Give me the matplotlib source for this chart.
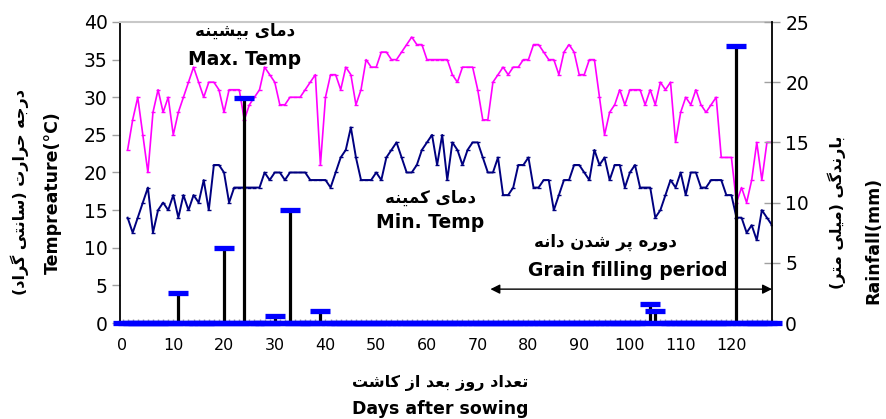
import matplotlib
matplotlib.use("Agg")
import matplotlib.pyplot as plt
import numpy as np

# ---------------- data ----------------
max_temp = [23, 27, 30, 25, 20, 28, 31, 28, 30, 25,
            28, 30, 32, 34, 32, 30, 32, 32, 31, 28,
            31, 31, 31, 27, 29, 30, 31, 34, 33, 32,
            29, 29, 30, 30, 30, 31, 32, 33, 21, 30,
            33, 33, 31, 34, 33, 29, 31, 35, 34, 34,
            36, 36, 35, 35, 36, 37, 38, 37, 37, 35,
            35, 35, 35, 35, 33, 32, 34, 34, 34, 31,
            27, 27, 32, 33, 34, 33, 34, 34, 35, 35,
            37, 37, 36, 35, 35, 33, 36, 37, 36, 33,
            33, 35, 35, 30, 25, 28, 29, 31, 29, 31,
            31, 31, 29, 31, 29, 32, 31, 32, 24, 28,
            30, 29, 31, 29, 28, 29, 30, 22, 22, 22,
            16, 18, 16, 19, 24, 19, 24, 24]
min_temp = [14, 12, 14, 16, 18, 12, 15, 16, 15, 17,
            14, 17, 15, 17, 16, 19, 15, 21, 21, 20,
            16, 18, 18, 18, 18, 18, 18, 20, 19, 20,
            20, 19, 20, 20, 20, 20, 19, 19, 19, 19,
            18, 20, 22, 23, 26, 22, 19, 19, 19, 20,
            19, 22, 23, 24, 22, 20, 20, 21, 23, 24,
            25, 21, 25, 19, 24, 23, 21, 23, 24, 24,
            22, 20, 20, 22, 17, 17, 18, 21, 21, 22,
            18, 18, 19, 19, 15, 17, 19, 19, 21, 21,
            20, 19, 23, 21, 22, 19, 21, 21, 18, 20,
            21, 18, 18, 18, 14, 15, 17, 19, 18, 20,
            17, 20, 20, 18, 18, 19, 19, 19, 17, 17,
            14, 14, 12, 13, 11, 15, 14, 13]
rain_days = [11, 20, 24, 30, 33, 39, 104, 105, 121]
rain_mm = [2.5, 6.2, 18.7, 0.6, 9.4, 1.0, 1.6, 1.0, 23.0]
n_days = 128
x_ticks = list(range(0, 121, 10))
temp_ticks = list(range(0, 41, 5))
rain_ticks = list(range(0, 26, 5))
grain_start, grain_end = 72.5, 128

# ---------------- Persian shaping ----------------
FORMS = {
    '\u0627': ('\uFE8D', '\uFE8E', None, None),
    '\u062F': ('\uFEA9', '\uFEAA', None, None),
    '\u0630': ('\uFEAB', '\uFEAC', None, None),
    '\u0631': ('\uFEAD', '\uFEAE', None, None),
    '\u0632': ('\uFEAF', '\uFEB0', None, None),
    '\u0648': ('\uFEED', '\uFEEE', None, None),
    '\u0628': ('\uFE8F', '\uFE90', '\uFE91', '\uFE92'),
    '\u067E': ('\uFB56', '\uFB57', '\uFB58', '\uFB59'),
    '\u062A': ('\uFE95', '\uFE96', '\uFE97', '\uFE98'),
    '\u062C': ('\uFE9D', '\uFE9E', '\uFE9F', '\uFEA0'),
    '\u062D': ('\uFEA1', '\uFEA2', '\uFEA3', '\uFEA4'),
    '\u0633': ('\uFEB1', '\uFEB2', '\uFEB3', '\uFEB4'),
    '\u0634': ('\uFEB5', '\uFEB6', '\uFEB7', '\uFEB8'),
    '\u0639': ('\uFEC9', '\uFECA', '\uFECB', '\uFECC'),
    '\u06A9': ('\uFB8E', '\uFB8F', '\uFB90', '\uFB91'),
    '\u06AF': ('\uFB92', '\uFB93', '\uFB94', '\uFB95'),
    '\u0644': ('\uFEDD', '\uFEDE', '\uFEDF', '\uFEE0'),
    '\u0645': ('\uFEE1', '\uFEE2', '\uFEE3', '\uFEE4'),
    '\u0646': ('\uFEE5', '\uFEE6', '\uFEE7', '\uFEE8'),
    '\u0647': ('\uFEE9', '\uFEEA', '\uFEEB', '\uFEEC'),
    '\u06CC': ('\uFBFC', '\uFBFD', '\uFBFE', '\uFBFF'),
}
RIGHT_ONLY = set('\u0627\u062F\u0630\u0631\u0632\u0648')


def fa(text):
    out = []
    for i, c in enumerate(text):
        if c not in FORMS:
            out.append(c)
            continue
        prev = text[i - 1] if i > 0 else None
        nxt = text[i + 1] if i + 1 < len(text) else None
        jp = prev in FORMS and prev not in RIGHT_ONLY
        jn = nxt in FORMS and c not in RIGHT_ONLY
        f = FORMS[c]
        if jp and jn:
            g = f[3]
        elif jp:
            g = f[1]
        elif jn:
            g = f[2]
        else:
            g = f[0]
        out.append(g)
    out = out[::-1]
    swap = {'(': ')', ')': '('}
    return ''.join(swap.get(ch, ch) for ch in out)


FONT = ['DejaVu Sans']
plt.rcParams['font.family'] = FONT

# ---------------- figure ----------------
fig = plt.figure(figsize=(8.86, 4.19), dpi=100)
ax = fig.add_axes([120 / 886, 1 - 323 / 419, (772 - 120) / 886, (323 - 22) / 419])
ax2 = ax.twinx()

days = np.arange(1, n_days + 1)
ax.plot(days, max_temp, color='#FF00FF', lw=1.2, marker='_', ms=3.5, mew=1)
ax.plot(days, min_temp, color='#000080', lw=1.4, marker='_', ms=3.5, mew=1)

ax.set_xlim(-0.5, 128)
ax.set_ylim(0, 40)
ax.set_yticks(temp_ticks)
ax.set_xticks(x_ticks)
ax.set_xticks(np.arange(0, 129, 1), minor=True)
ax.tick_params(axis='y', direction='out', length=6, width=1, color='#A0A0A0',
               labelsize=13.5, pad=3)
ax.tick_params(axis='x', which='both', direction='in', length=3, width=1,
               color='#A0A0A0', labelsize=11.5, pad=11)
ax.spines['left'].set_color('black')
ax.spines['left'].set_linewidth(1.3)
ax.spines['top'].set_color('#C8C8C8')
ax.spines['top'].set_linewidth(1.5)
ax.spines['right'].set_visible(False)
ax.spines['bottom'].set_color('#A0A0A0')

# rainfall on secondary axis
full_rain = np.zeros(n_days + 1)
for d, r in zip(rain_days, rain_mm):
    full_rain[d] = r
all_days = np.arange(0, n_days + 1)
ax2.vlines(rain_days, 0, rain_mm, color='black', lw=2.3, zorder=2)
ax2.plot(all_days, full_rain, ls='none', marker='_', ms=14, mew=3.8,
         color='#0000FF', clip_on=False, zorder=3)
ax2.set_ylim(0, 25)
ax2.set_yticks(rain_ticks)
ax2.tick_params(axis='y', direction='inout', length=11, width=1,
                color='#A0A0A0', labelsize=13.5, pad=4)
ax2.spines['right'].set_color('black')
ax2.spines['right'].set_linewidth(1.3)
for s in ['top', 'left', 'bottom']:
    ax2.spines[s].set_visible(False)

# grain filling arrow
ax.annotate('', xy=(grain_start, 4.5), xytext=(grain_end, 4.5),
            arrowprops=dict(arrowstyle='<|-|>', color='black', lw=1,
                            mutation_scale=14, shrinkA=0, shrinkB=0),
            annotation_clip=False)

# annotations
bold = dict(fontweight='bold', ha='center', va='center', color='black')
ax.text(24.1, 38.8, fa('دمای بیشینه'), fontsize=12, **bold)
ax.text(24.1, 35.0, 'Max. Temp', fontsize=13.5, **bold)
ax.text(60.6, 16.6, fa('دمای کمینه'), fontsize=12, **bold)
ax.text(60.6, 13.3, 'Min. Temp', fontsize=13.5, **bold)
ax.text(95.2, 10.7, fa('دوره پر شدن دانه'), fontsize=12, **bold)
ax.text(99.5, 7.0, 'Grain filling period', fontsize=13.5, **bold)

# axis labels
fig.text(440 / 886, 1 - 383 / 419, fa('تعداد روز بعد از کاشت'), fontsize=11.5, **bold)
fig.text(440 / 886, 1 - 409 / 419, 'Days after sowing', fontsize=12.5, **bold)
fig.text(20 / 886, 1 - 192 / 419, fa('درجه حرارت (سانتی گراد)'), fontsize=11.5,
         rotation=90, **bold)
fig.text(53 / 886, 1 - 193 / 419, 'Tempreature(°C)', fontsize=12.5, rotation=90, **bold)
fig.text(837 / 886, 1 - 212 / 419, fa('بارندگی (میلی متر)'), fontsize=11.5,
         rotation=90, **bold)
fig.text(873 / 886, 1 - 240 / 419, 'Rainfall(mm)', fontsize=12.5, rotation=90, **bold)

fig.savefig('out.png', dpi=100)
